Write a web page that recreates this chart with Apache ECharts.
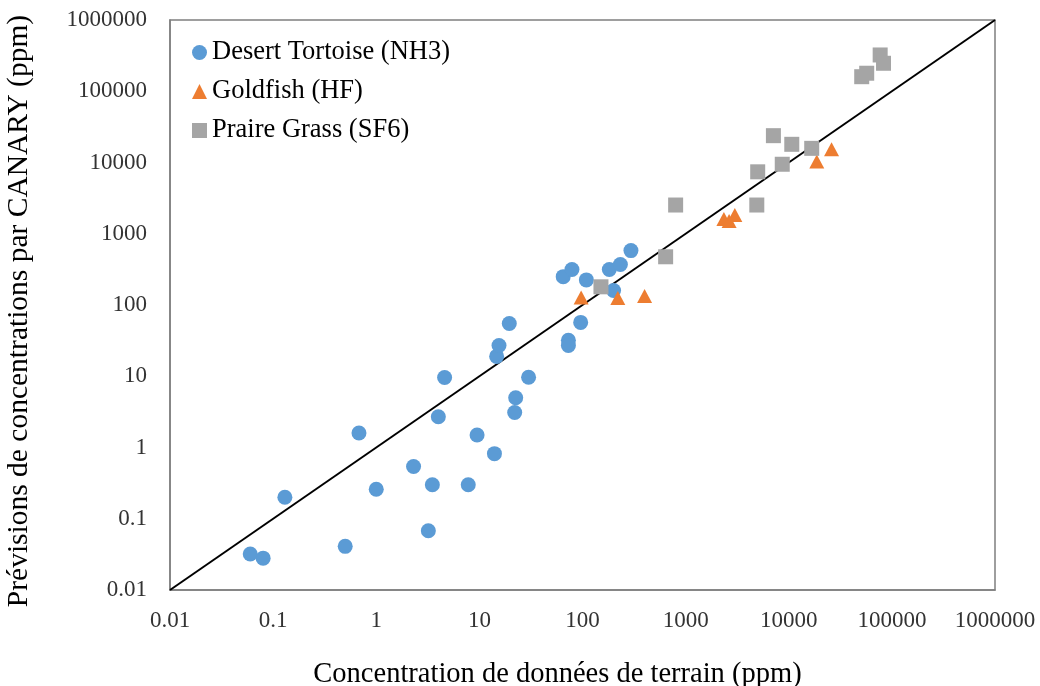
<!DOCTYPE html>
<html>
<head>
<meta charset="utf-8">
<title>CANARY vs field concentrations</title>
<script src="https://cdn.jsdelivr.net/npm/echarts@6/dist/echarts.min.js"></script>
<style>
  html, body { margin: 0; padding: 0; background: #ffffff; }
  #chart { width: 1040px; height: 686px; }
</style>
</head>
<body>
<div id="chart"></div>
<script>
// Field-measured concentration (x) vs CANARY predicted concentration (y), ppm
const tortoiseX = [0.06, 0.08, 0.13, 0.5, 0.68, 1.0, 2.3, 3.2, 3.5, 4.0, 4.6, 7.8, 9.5, 14, 14.7, 15.5, 19.5, 22, 22.5, 30, 65, 79, 73, 73, 96, 109, 182, 200, 233, 295];
const tortoiseY = [0.032, 0.028, 0.2, 0.041, 1.6, 0.26, 0.54, 0.068, 0.3, 2.7, 9.6, 0.3, 1.5, 0.82, 19, 27, 55, 3.1, 5.0, 9.7, 250, 315, 32, 27, 57, 225, 315, 160, 370, 580];

const goldfishX = [97, 220, 400, 2350, 2640, 3000, 18700, 26000];
const goldfishY = [127, 125, 134, 1610, 1510, 1830, 10300, 15300];

const grassX = [151, 640, 800, 4900, 5000, 8650, 7100, 10700, 16700, 51000, 57000, 77000, 83000];
const grassY = [180, 475, 2530, 2530, 7400, 9450, 23800, 18000, 15800, 160000, 179000, 323000, 247000];

// 1:1 reference line endpoints
const unityLine = [0.01, 1000000];

const tickLabels = ['0.01', '0.1', '1', '10', '100', '1000', '10000', '100000', '1000000'];

const seriesNames = ['Desert Tortoise (NH3)', 'Goldfish (HF)', 'Praire Grass (SF6)'];

function pairs(xs, ys) {
  return xs.map((x, i) => [x, ys[i]]);
}

const serif = '"Liberation Serif", "Times New Roman", serif';
const axisColor = '#7f7f7f';
const labelColor = '#333333';

function logAxis(extra) {
  return Object.assign({
    type: 'log',
    logBase: 10,
    min: 0.01,
    max: 1000000,
    splitNumber: 8,
    axisLine: { show: true, lineStyle: { color: axisColor, width: 1.5 } },
    axisTick: { show: false },
    splitLine: { show: false },
    nameLocation: 'middle'
  }, extra);
}

const chart = echarts.init(document.getElementById('chart'), null, { renderer: 'canvas' });

chart.setOption({
  animation: false,
  backgroundColor: '#ffffff',
  grid: {
    left: 170, right: 45, top: 20, bottom: 96,
    containLabel: false,
    outerBoundsMode: 'none',
    show: true, borderColor: axisColor, borderWidth: 1.5
  },
  legend: {
    orient: 'vertical',
    left: 187,
    top: 34,
    itemWidth: 15,
    itemHeight: 15,
    itemGap: 12,
    data: [
      { name: seriesNames[0], icon: 'circle' },
      { name: seriesNames[1], icon: 'triangle' },
      { name: seriesNames[2], icon: 'rect' }
    ],
    textStyle: { fontFamily: serif, fontSize: 26.5, lineHeight: 26, color: '#000' }
  },
  xAxis: logAxis({
    name: 'Concentration de données de terrain (ppm)',
    nameGap: 70,
    nameTextStyle: { fontFamily: serif, fontSize: 28.5, color: '#000', padding: [0, 50, 0, 0] },
    axisLabel: {
      fontFamily: serif, fontSize: 23, color: labelColor, margin: 19,
      formatter: (v, i) => tickLabels[i]
    }
  }),
  yAxis: logAxis({
    name: 'Prévisions de concentrations par CANARY (ppm)',
    nameGap: 136,
    nameTextStyle: { fontFamily: serif, fontSize: 29.5, color: '#000', padding: [0, 12, 0, 0] },
    axisLabel: {
      fontFamily: serif, fontSize: 23, color: labelColor, margin: 23,
      formatter: (v, i) => tickLabels[i]
    }
  }),
  series: [
    {
      type: 'line',
      data: [[unityLine[0], unityLine[0]], [unityLine[1], unityLine[1]]],
      symbol: 'none',
      lineStyle: { color: '#000', width: 2 },
      z: 1,
      silent: true
    },
    {
      name: seriesNames[0],
      type: 'scatter',
      symbol: 'circle',
      symbolSize: 15,
      itemStyle: { color: '#5b9bd5', opacity: 1 },
      data: pairs(tortoiseX, tortoiseY),
      z: 3
    },
    {
      name: seriesNames[1],
      type: 'scatter',
      symbol: 'triangle',
      symbolSize: [15, 14],
      itemStyle: { color: '#ed7d31', opacity: 1 },
      data: pairs(goldfishX, goldfishY),
      z: 3
    },
    {
      name: seriesNames[2],
      type: 'scatter',
      symbol: 'rect',
      symbolSize: 15,
      itemStyle: { color: '#a5a5a5', opacity: 1 },
      data: pairs(grassX, grassY),
      z: 3
    }
  ]
});
</script>
</body>
</html>
